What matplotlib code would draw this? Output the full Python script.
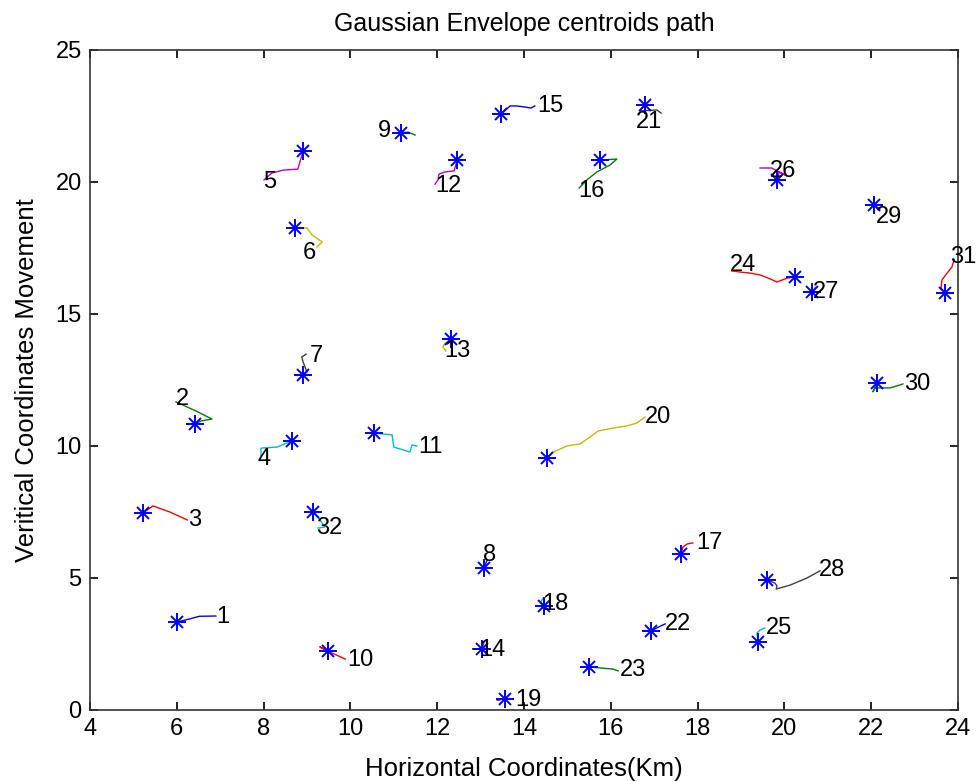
import matplotlib
matplotlib.use("Agg")
import matplotlib.pyplot as plt

# Centroid paths (data units); first point of each path = star (centroid)
paths_x = [
    [6.00, 6.30, 6.52, 6.90],
    [6.42, 6.56, 6.81, 6.45, 5.98],
    [5.22, 5.45, 5.84, 6.24],
    [8.65, 8.31, 7.94, 7.94, 7.90],
    [8.91, 8.79, 8.45, 8.19, 8.01],
    [8.72, 9.00, 9.12, 9.35, 9.23],
    [8.91, 9.00, 8.91, 8.88, 8.98],
    [13.08, 13.15],
    [11.17, 11.33, 11.49],
    [9.48, 9.30, 9.48, 9.88],
    [10.54, 10.96, 11.00, 11.14, 11.37, 11.42, 11.53],
    [12.46, 12.39, 12.18, 12.04, 12.02, 11.95],
    [12.32, 12.18, 12.13, 12.20],
    [13.03, 12.82, 13.03, 13.08],
    [13.47, 13.68, 13.84, 14.02, 14.16, 14.25],
    [15.75, 16.14, 15.98, 15.68, 15.45, 15.27],
    [17.62, 17.66, 17.76, 17.89],
    [14.46, 14.39, 14.44],
    [13.56, 13.38, 13.56],
    [14.53, 14.67, 14.99, 15.29, 15.52, 15.71, 16.05, 16.37, 16.60, 16.79],
    [16.79, 16.67, 17.06, 17.16],
    [16.93, 17.06, 17.25],
    [15.50, 16.05, 16.17],
    [20.24, 20.06, 19.83, 19.67, 19.44, 19.21, 18.98, 18.79],
    [19.39, 19.37, 19.44, 19.55],
    [19.83, 19.88, 20.06, 19.71, 19.44],
    [20.64, 20.71],
    [19.60, 19.78, 19.83, 19.81, 20.13, 20.52, 20.82],
    [22.06, 22.20],
    [22.13, 22.04, 22.09, 22.43, 22.66, 22.73],
    [23.70, 23.61, 23.63, 23.75, 23.86, 23.91],
    [9.14, 9.30, 9.41, 9.25],
]
paths_y = [
    [3.33, 3.45, 3.55, 3.56],
    [10.83, 10.95, 11.02, 11.32, 11.67],
    [7.46, 7.73, 7.50, 7.20],
    [10.19, 9.96, 9.92, 9.58, 9.45],
    [21.17, 20.49, 20.45, 20.34, 20.08],
    [18.26, 18.26, 17.99, 17.73, 17.54],
    [12.69, 12.80, 13.18, 13.37, 13.48],
    [5.38, 5.68],
    [21.86, 21.89, 21.78],
    [2.23, 2.39, 2.23, 1.93],
    [10.49, 10.42, 9.96, 9.89, 9.77, 10.04, 10.00],
    [20.83, 20.42, 20.38, 20.30, 20.08, 19.92],
    [14.05, 13.90, 13.75, 13.60],
    [2.31, 2.31, 2.31, 2.58],
    [22.58, 22.88, 22.88, 22.84, 22.80, 22.88],
    [20.83, 20.87, 20.64, 20.38, 20.08, 19.77],
    [5.91, 6.17, 6.29, 6.33],
    [3.94, 4.09, 4.24],
    [0.42, 0.38, 0.42],
    [9.55, 9.77, 10.00, 10.08, 10.34, 10.57, 10.68, 10.76, 10.87, 11.10],
    [22.92, 22.69, 22.73, 22.61],
    [2.99, 3.11, 3.26],
    [1.63, 1.55, 1.48],
    [16.40, 16.36, 16.21, 16.33, 16.48, 16.55, 16.59, 16.63],
    [2.58, 2.92, 3.03, 3.11],
    [20.08, 20.38, 20.23, 20.53, 20.53],
    [15.83, 16.02],
    [4.92, 4.81, 4.70, 4.58, 4.73, 5.00, 5.27],
    [19.13, 18.98],
    [12.39, 12.05, 12.20, 12.20, 12.31, 12.35],
    [15.80, 15.98, 16.29, 16.55, 16.78, 17.05],
    [7.50, 7.20, 6.93, 6.89],
]
# Label anchor positions (left edge, vertical centre)
label_x = [6.90, 5.98, 6.26, 7.85, 7.99, 8.91, 9.07, 13.06, 10.64, 9.92, 11.56, 11.95,
           12.16, 12.96, 14.30, 15.24, 17.96, 14.41, 13.79, 16.79, 16.58, 17.25, 16.21,
           18.75, 19.58, 19.67, 20.66, 20.80, 22.11, 22.76, 23.82, 9.21]
label_y = [3.52, 11.78, 7.20, 9.51, 20.00, 17.31, 13.41, 5.87, 21.93, 1.89, 9.96, 19.85,
           13.60, 2.27, 22.88, 19.66, 6.33, 4.02, 0.38, 11.10, 22.27, 3.26, 1.52,
           16.86, 3.11, 20.42, 15.83, 5.30, 18.67, 12.35, 17.16, 6.89]
labels = [str(i + 1) for i in range(32)]

x_ticks = [4, 6, 8, 10, 12, 14, 16, 18, 20, 22, 24]
y_ticks = [0, 5, 10, 15, 20, 25]

colors = [(0, 0, 1), (0, 0.5, 0), (1, 0, 0), (0, 0.75, 0.75),
          (0.75, 0, 0.75), (0.75, 0.75, 0), (0.25, 0.25, 0.25)]

plt.rcParams['font.family'] = ['Liberation Sans', 'DejaVu Sans']

fig = plt.figure(figsize=(9.77, 7.81), dpi=100)
ax = fig.add_axes([90 / 977, 71 / 781, 868 / 977, 660 / 781])

for i, (px, py) in enumerate(zip(paths_x, paths_y)):
    ax.plot(px, py, '-', color=colors[i % 7], lw=1.0)
for i, (px, py) in enumerate(zip(paths_x, paths_y)):
    ax.plot(px[0], py[0], marker='+', color='blue', ms=13, mew=1.4)
    ax.plot(px[0], py[0], marker='x', color='blue', ms=8, mew=1.4)
    ax.text(label_x[i], label_y[i], labels[i], ha='left', va='center', fontsize=17,
            color='black')

ax.set_xlim(4, 24)
ax.set_ylim(0, 25)
ax.set_xticks(x_ticks)
ax.set_yticks(y_ticks)
ax.tick_params(direction='in', top=True, right=True, labelsize=17, length=6,
               width=1.2, pad=6)
for s in ax.spines.values():
    s.set_linewidth(1.2)
    s.set_color('#333333')
ax.set_title('Gaussian Envelope centroids path', fontsize=18, pad=14)
ax.set_xlabel('Horizontal Coordinates(Km)', fontsize=18.5, labelpad=12)
ax.set_ylabel('Veritical Coordinates Movement', fontsize=18.5, labelpad=12)

fig.savefig('out.png', dpi=100)
